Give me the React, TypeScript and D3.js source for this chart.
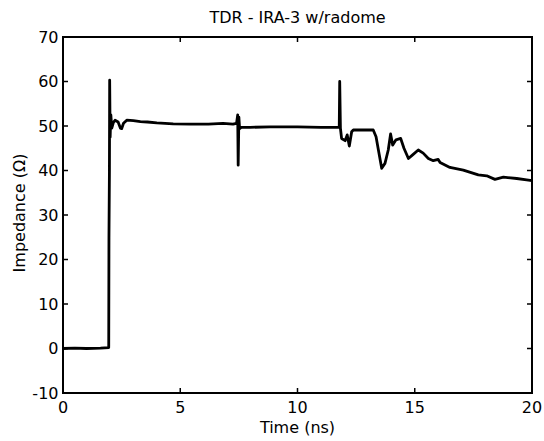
import React from "react";
import * as d3 from "d3";

const timeNs = [
  0, 0.5, 1.0, 1.6, 1.95, 1.96, 1.98, 1.99, 2.01, 2.04, 2.08, 2.15, 2.22, 2.35, 2.45, 2.5, 2.58, 2.72,
  3.0, 3.3, 3.6, 4.0, 4.7, 5.42, 6.2, 6.82, 7.25, 7.4, 7.45, 7.47, 7.5, 7.53, 7.6, 7.97, 8.83, 10,
  11.0, 11.78, 11.8, 11.83, 11.88, 12.03, 12.12, 12.21, 12.31, 12.38, 13.23, 13.35, 13.45, 13.59,
  13.73, 13.87, 13.97, 14.06, 14.2, 14.4, 14.54, 14.73, 14.91, 15.15, 15.36, 15.58, 15.79, 16.0,
  16.08, 16.5, 17.07, 17.71, 18.07, 18.42, 18.78, 19.35, 19.77, 20.0,
];
const impedance = [
  0, 0.1, 0, 0.1, 0.2, 25, 40, 60.3, 47.5, 52.5, 49.5, 50.8, 51.3, 50.9, 49.5, 49.4, 50.6, 51.3,
  51.2, 51.0, 50.9, 50.7, 50.5, 50.4, 50.4, 50.6, 50.4, 50.6, 52.5, 41.2, 52.0, 49.4, 49.7, 49.7, 49.8, 49.8,
  49.7, 49.7, 60.0, 49.5, 47.2, 46.7, 48.0, 45.5, 48.7, 49.1, 49.1, 47.6, 44.6, 40.5,
  41.6, 44.6, 48.2, 45.7, 46.9, 47.2, 45.0, 42.7, 43.5, 44.6, 43.9, 42.7, 42.2, 42.5,
  41.8, 40.7, 40.1, 39.0, 38.8, 38.0, 38.5, 38.2, 37.9, 37.7,
];
const xTicks = [0, 5, 10, 15, 20];
const yTicks = [-10, 0, 10, 20, 30, 40, 50, 60, 70];
const title = "TDR - IRA-3 w/radome";
const xLabel = "Time (ns)";
const yLabel = "Impedance (\u03A9)";

export default function App() {
  const W = 544, H = 441;
  const L = 63, R = 532, T = 37, B = 393;
  const x = d3.scaleLinear().domain([0, 20]).range([L, R]);
  const y = d3.scaleLinear().domain([-10, 70]).range([B, T]);
  const pts: [number, number][] = timeNs.map((t, i) => [t, impedance[i]]);
  const line = d3.line<[number, number]>().x(d => x(d[0])).y(d => y(d[1]));
  const font = "DejaVu Sans, Verdana, sans-serif";
  const tk = 5;
  return (
    <svg width={W} height={H} style={{ position: "absolute", left: 0, top: 0, background: "#fff" }}>
      <rect x={0} y={0} width={W} height={H} fill="#fff" />
      <defs>
        <clipPath id="plot">
          <rect x={L} y={T} width={R - L} height={B - T} />
        </clipPath>
      </defs>
      <path d={line(pts) || ""} fill="none" stroke="#000" strokeWidth={2.8} strokeLinejoin="round" clipPath="url(#plot)" />
      <rect x={L} y={T} width={R - L} height={B - T} fill="none" stroke="#000" strokeWidth={2} />
      {xTicks.map(t => (
        <g key={"x" + t}>
          <line x1={x(t)} x2={x(t)} y1={B} y2={B - tk} stroke="#000" strokeWidth={1.5} />
          <line x1={x(t)} x2={x(t)} y1={T} y2={T + tk} stroke="#000" strokeWidth={1.5} />
          <text x={x(t)} y={412.5} textAnchor="middle" fontFamily={font} fontSize={16} fill="#000">{t}</text>
        </g>
      ))}
      {yTicks.map(v => (
        <g key={"y" + v}>
          <line x1={L} x2={L + tk} y1={y(v)} y2={y(v)} stroke="#000" strokeWidth={1.5} />
          <line x1={R} x2={R - tk} y1={y(v)} y2={y(v)} stroke="#000" strokeWidth={1.5} />
          <text x={58.5} y={y(v)} dy="0.36em" textAnchor="end" fontFamily={font} fontSize={16} fill="#000">{v}</text>
        </g>
      ))}
      <text x={(L + R) / 2} y={22.7} textAnchor="middle" fontFamily={font} fontSize={16} fill="#000">{title}</text>
      <text x={(L + R) / 2} y={433.3} textAnchor="middle" fontFamily={font} fontSize={16} fill="#000">{xLabel}</text>
      <text transform={`translate(24.5,213) rotate(-90)`} textAnchor="middle" fontFamily={font} fontSize={16} fill="#000">{yLabel}</text>
    </svg>
  );
}
